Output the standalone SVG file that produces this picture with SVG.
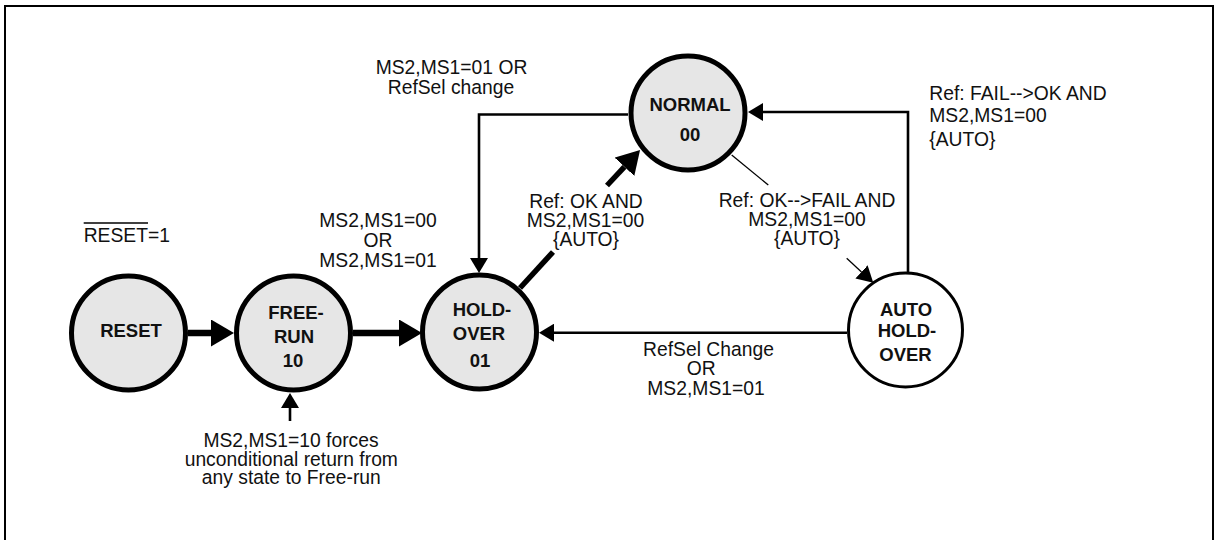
<svg xmlns="http://www.w3.org/2000/svg" width="1217" height="540" viewBox="0 0 1217 540">
<style>
.frame{fill:none;stroke:#000;stroke-width:2}
.st{fill:#e6e6e6;stroke:#000;stroke-width:5}
.st2{fill:#fff;stroke:#000;stroke-width:3}
.nl{font-family:"Liberation Sans",Arial,sans-serif;font-weight:bold;font-size:18.5px;fill:#111;text-anchor:middle}
.lb{font-family:"Liberation Sans",Arial,sans-serif;font-size:19.3px;fill:#111;text-anchor:middle}
.lbl{font-family:"Liberation Sans",Arial,sans-serif;font-size:19.3px;fill:#111}
.thick{fill:none;stroke:#000;stroke-width:6.5}
.diag{fill:none;stroke:#000;stroke-width:5.5}
.med{fill:none;stroke:#000;stroke-width:2.6}
.thin{fill:none;stroke:#000;stroke-width:1.3}
</style>
<defs>
<marker id="aBig" markerUnits="userSpaceOnUse" markerWidth="23" markerHeight="27" refX="0" refY="13.5" orient="auto"><path d="M0,0 L23,13.5 L0,27 z" fill="#000"/></marker>
<marker id="aMid" markerUnits="userSpaceOnUse" markerWidth="15" markerHeight="18" refX="0" refY="9" orient="auto"><path d="M0,0 L15,9 L0,18 z" fill="#000"/></marker>
<marker id="aSm" markerUnits="userSpaceOnUse" markerWidth="16" markerHeight="18" refX="0" refY="9" orient="auto"><path d="M0,0 L16,9 L0,18 z" fill="#000"/></marker>
</defs>
<rect class="frame" x="5" y="6" width="1208" height="545"/>
<g id="connectors">
<line class="thick" x1="188" y1="333" x2="211" y2="333" marker-end="url(#aBig)"/>
<line class="thick" x1="353" y1="333" x2="399" y2="333" marker-end="url(#aBig)"/>
<line class="diag" x1="520" y1="288" x2="553" y2="252"/>
<line class="diag" x1="607" y1="185.5" x2="624.4" y2="166.8" marker-end="url(#aBig)"/>
<polyline class="med" points="628,114.5 479,114.5 479,258" marker-end="url(#aMid)"/>
<polyline class="med" points="908,272 908,112 763,112" marker-end="url(#aMid)"/>
<line class="thin" x1="731.7" y1="155" x2="768.3" y2="185"/>
<line class="thin" x1="846.7" y1="258.3" x2="861.5" y2="271.9" marker-end="url(#aSm)"/>
<line class="med" x1="847" y1="332.7" x2="554" y2="332.7" marker-end="url(#aMid)"/>
<line class="med" x1="290" y1="421" x2="290" y2="408" marker-end="url(#aMid)"/>
</g>
<g id="node-reset">
<circle class="st" cx="128.5" cy="333" r="57"/>
<text class="nl" x="131" y="337">RESET</text>
</g>
<g id="node-freerun">
<circle class="st" cx="293.5" cy="333" r="57"/>
<text class="nl" x="296" y="319">FREE-</text>
<text class="nl" x="294" y="343">RUN</text>
<text class="nl" x="293" y="367">10</text>
</g>
<g id="node-holdover">
<circle class="st" cx="479.5" cy="332" r="57"/>
<text class="nl" x="482" y="316">HOLD-</text>
<text class="nl" x="479" y="340">OVER</text>
<text class="nl" x="480" y="367">01</text>
</g>
<g id="node-normal">
<circle class="st" cx="688" cy="113" r="57"/>
<text class="nl" x="690" y="111">NORMAL</text>
<text class="nl" x="690" y="140.5">00</text>
</g>
<g id="node-autoholdover">
<circle class="st2" cx="905.5" cy="330" r="57"/>
<text class="nl" x="906" y="316">AUTO</text>
<text class="nl" x="907" y="337">HOLD-</text>
<text class="nl" x="905.5" y="361">OVER</text>
</g>
<g id="labels">
<text class="lbl" x="83.7" y="242">RESET=1</text>
<line x1="83.7" y1="223" x2="148" y2="223" stroke="#000" stroke-width="1.5"/>
<text class="lb" x="451.5" y="74.3">MS2,MS1=01 OR</text>
<text class="lb" x="451" y="94.3">RefSel change</text>
<text class="lb" x="378" y="227.3">MS2,MS1=00</text>
<text class="lb" x="378" y="247.3">OR</text>
<text class="lb" x="378" y="266.7">MS2,MS1=01</text>
<text class="lb" x="586" y="207.5">Ref: OK AND</text>
<text class="lb" x="585.5" y="226.5">MS2,MS1=00</text>
<text class="lb" x="586" y="245.5">{AUTO}</text>
<text class="lb" x="807" y="206.5">Ref: OK--&gt;FAIL AND</text>
<text class="lb" x="807" y="225.5">MS2,MS1=00</text>
<text class="lb" x="807" y="244.5">{AUTO}</text>
<text class="lbl" x="929.3" y="100">Ref: FAIL--&gt;OK AND</text>
<text class="lbl" x="929.3" y="121.5">MS2,MS1=00</text>
<text class="lbl" x="929.3" y="146">{AUTO}</text>
<text class="lb" x="708.5" y="356">RefSel Change</text>
<text class="lb" x="701.3" y="375">OR</text>
<text class="lb" x="706" y="395">MS2,MS1=01</text>
<text class="lb" x="291" y="446.7">MS2,MS1=10 forces</text>
<text class="lb" x="291.3" y="465.7">unconditional return from</text>
<text class="lb" x="291.3" y="484.3">any state to Free-run</text>
</g>
</svg>
